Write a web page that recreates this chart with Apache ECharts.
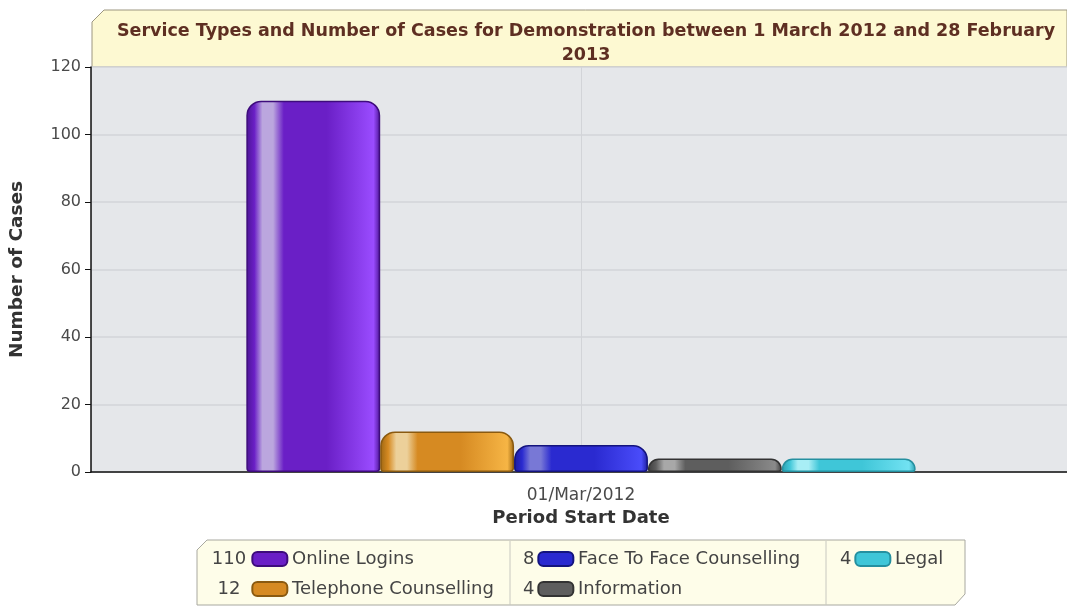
<!DOCTYPE html>
<html>
<head>
<meta charset="utf-8">
<script src="https://cdn.jsdelivr.net/npm/echarts@6/dist/echarts.min.js"></script>
<style>
  html, body { margin: 0; padding: 0; background: #fff; }
  #chart { width: 1067px; height: 606px; }
</style>
</head>
<body>
<div id="chart"></div>
<script>
// data
const categories = ['01/Mar/2012']
const serviceNames = ['Online Logins', 'Telephone Counselling', 'Face To Face Counselling', 'Information', 'Legal']
const caseCounts = [110, 12, 8, 4, 4]
const yTicks = [0, 20, 40, 60, 80, 100, 120]

const FONT = 'DejaVu Sans, Verdana, sans-serif'

// edge, highlight, body, bright, border for each bar
const barColors = [
    ['#4c1594', '#bba6de', '#6a1fc6', '#9a4cff', '#3e0c7c'],
    ['#9c6612', '#ecd09a', '#d68a22', '#f6b545', '#8a5a10'],
    ['#1c1c9c', '#7878d6', '#2a2ad0', '#4a4cfa', '#14147e'],
    ['#3e3e3e', '#a8a8a8', '#5e5e5e', '#8a8a8a', '#333333'],
    ['#2a9fb0', '#a8eef5', '#3fc6d8', '#72e2f2', '#2590a0']
]

function barGradient(c){
    return new echarts.graphic.LinearGradient(0, 0, 1, 0, [
        {offset: 0, color: c[0]},
        {offset: 0.06, color: c[2]},
        {offset: 0.12, color: c[1]},
        {offset: 0.2, color: c[1]},
        {offset: 0.28, color: c[2]},
        {offset: 0.6, color: c[2]},
        {offset: 0.95, color: c[3]},
        {offset: 1, color: c[0]}
    ])
}

const chart = echarts.init(document.getElementById('chart'))

const series = serviceNames.map((name, i) => ({
    name: name,
    type: 'bar',
    barGap: '0%',
    barCategoryGap: '31.7%',
    z: 3,
    itemStyle: {
        color: barGradient(barColors[i]),
        borderColor: barColors[i][4],
        borderWidth: 1.5,
        borderRadius: [14, 14, 3, 3]
    },
    data: [caseCounts[i]]
}))

// legend item: value, coloured box, name
function legendRich(valueWidth, valueAlign){
    const rich = {
        v: {width: valueWidth, align: valueAlign, fontSize: 18, color: '#444', fontFamily: FONT},
        t: {fontSize: 18, color: '#444', fontFamily: FONT}
    }
    barColors.forEach((c, i) => {
        rich['b' + i] = {
            width: 33, height: 12,
            backgroundColor: c[2],
            borderColor: c[4], borderWidth: 2, borderRadius: 4
        }
    })
    return rich
}
function legendFormatter(name){
    const i = serviceNames.indexOf(name)
    return '{v|' + caseCounts[i] + '} {b' + i + '|}{t|\u00a0' + name + '}'
}
function makeLegend(names, left, valueWidth, valueAlign){
    return {
        data: names,
        orient: 'vertical',
        left: left,
        top: 550,
        icon: 'none',
        itemWidth: 0,
        itemHeight: 18,
        itemGap: 12,
        padding: 0,
        selectedMode: false,
        formatter: legendFormatter,
        textStyle: {rich: legendRich(valueWidth, valueAlign), lineHeight: 18}
    }
}

const option = {
    backgroundColor: '#ffffff',
    animation: false,
    title: {
        text: 'Service Types and Number of Cases for Demonstration between 1 March 2012 and 28 February\n2013',
        left: 581,
        textAlign: 'center',
        top: 14,
        textStyle: {
            fontFamily: FONT,
            fontWeight: 'bold',
            fontSize: 17.5,
            color: '#5e2f22',
            lineHeight: 24
        }
    },
    graphic: [
        {
            type: 'polygon', z: -10,
            shape: {points: [[104, 10], [1067, 10], [1067, 67], [92, 67], [92, 22]]},
            style: {fill: '#fdf9d2', stroke: '#9c9680', lineWidth: 1}
        },
        {
            type: 'polygon', z: -10,
            shape: {points: [[207, 540], [965, 540], [965, 594], [955, 605], [197, 605], [197, 550]]},
            style: {fill: '#fefde9', stroke: '#a8a8a0', lineWidth: 1}
        },
        {type: 'line', z: -9, shape: {x1: 510, y1: 541, x2: 510, y2: 605}, style: {stroke: '#c8c8c0', lineWidth: 1}},
        {type: 'line', z: -9, shape: {x1: 826, y1: 541, x2: 826, y2: 605}, style: {stroke: '#c8c8c0', lineWidth: 1}}
    ],
    legend: [
        makeLegend(serviceNames.slice(0, 2), 203, 42, 'right'),
        makeLegend(serviceNames.slice(2, 4), 518, 13, 'left'),
        makeLegend(serviceNames.slice(4), 835, 13, 'left')
    ],
    grid: {
        left: 91,
        width: 980,
        top: 67,
        bottom: 134,
        outerBoundsMode: 'none',
        containLabel: false,
        show: true,
        backgroundColor: '#e5e7ea',
        borderWidth: 0
    },
    xAxis: [
        {
            type: 'category',
            data: categories,
            name: 'Period Start Date',
            nameLocation: 'middle',
            nameGap: 37,
            nameTextStyle: {fontFamily: FONT, fontWeight: 'bold', fontSize: 18, color: '#333'},
            axisLine: {lineStyle: {color: '#111', width: 1.5}},
            axisTick: {alignWithLabel: true, length: 6, lineStyle: {color: '#111'}},
            axisLabel: {margin: 15, fontFamily: FONT, fontSize: 17, color: '#4a4a4a'},
            splitLine: {show: false}
        },
        {
            type: 'value',
            min: 0, max: 2, interval: 1,
            position: 'bottom',
            axisLine: {show: false},
            axisTick: {show: false},
            axisLabel: {show: false},
            splitLine: {show: true, lineStyle: {color: '#d2d4d8', width: 1}}
        }
    ],
    yAxis: {
        type: 'value',
        min: yTicks[0],
        max: yTicks[yTicks.length - 1],
        interval: 20,
        name: 'Number of Cases',
        nameLocation: 'middle',
        nameGap: 64,
        nameTextStyle: {fontFamily: FONT, fontWeight: 'bold', fontSize: 18.5, color: '#333'},
        axisLine: {show: true, lineStyle: {color: '#111', width: 1.5}},
        axisTick: {show: true, length: 6, lineStyle: {color: '#111'}},
        axisLabel: {margin: 10, fontFamily: FONT, fontSize: 16, color: '#4a4a4a'},
        splitLine: {lineStyle: {color: '#d2d4d8', width: 1.5}}
    },
    series: series
}

chart.setOption(option)
</script>
</body>
</html>
